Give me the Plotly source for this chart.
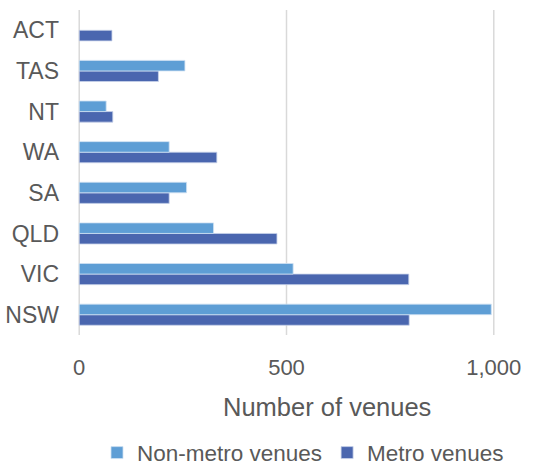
import plotly.graph_objects as go

states = ["NSW", "VIC", "QLD", "SA", "WA", "NT", "TAS", "ACT"]
non_metro = [994, 516, 324, 259, 217, 65, 255, None]
metro = [796, 795, 477, 217, 332, 81, 191, 79]
x_ticks = [0, 500, 1000]
x_tick_labels = ["0", "500", "1,000"]

font_family = "Liberation Sans"
text_color = "#595959"
grid_color = "#D9D9D9"

fig = go.Figure()
# Metro trace added first so it sits below the non-metro bar in each group
fig.add_trace(go.Bar(
    y=states, x=metro, orientation="h", name="Metro venues",
    marker=dict(color="#4A66AF", line=dict(color="#C9D3EA", width=0.8)),
    legendrank=2,
))
fig.add_trace(go.Bar(
    y=states, x=non_metro, orientation="h", name="Non-metro venues",
    marker=dict(color="#5E9ED5", line=dict(color="#CFE1F2", width=0.8)),
    legendrank=1,
))

# vertical gridlines at every x tick, drawn beneath the bars
for v in x_ticks:
    fig.add_shape(
        type="line", xref="x", yref="paper", x0=v, x1=v, y0=0, y1=1,
        line=dict(color=grid_color, width=1.5), layer="below",
    )

fig.update_layout(
    width=550, height=466,
    margin=dict(l=73, r=50, t=10, b=131, autoexpand=False),
    paper_bgcolor="white", plot_bgcolor="white",
    barmode="group", bargap=0.48, bargroupgap=0,
    font=dict(family=font_family, color=text_color),
    showlegend=True,
    legend=dict(
        orientation="h", xref="container", x=97 / 550, xanchor="left",
        yref="paper", y=-0.363, yanchor="middle",
        font=dict(size=22.5, color=text_color), itemwidth=30,
        traceorder="normal",
    ),
    xaxis=dict(
        range=[-15, 1015], tickvals=x_ticks, ticktext=x_tick_labels,
        showgrid=False, zeroline=False, showline=False, automargin=False,
        tickfont=dict(size=22, color=text_color),
        ticklabelstandoff=17,
    ),
    yaxis=dict(
        showgrid=False, zeroline=False, showline=False, automargin=False,
        tickfont=dict(size=23, color=text_color),
        ticklabelstandoff=13,
    ),
    annotations=[dict(
        text="Number of venues", showarrow=False,
        xref="paper", x=0.595, xanchor="center",
        yref="paper", y=-0.2215, yanchor="middle",
        font=dict(size=25.5, color=text_color),
    )],
)

fig.write_html("out.html")
